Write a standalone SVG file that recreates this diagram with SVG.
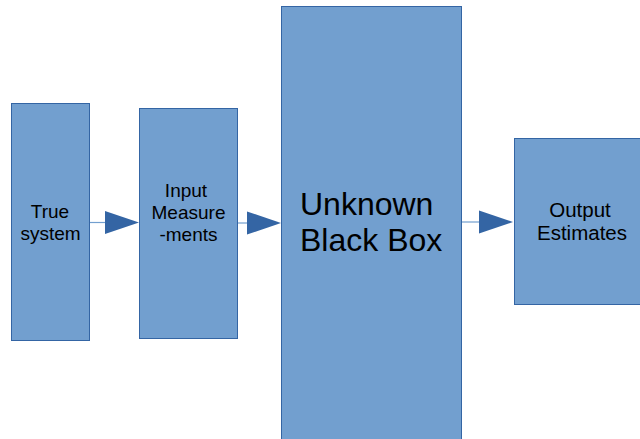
<svg xmlns="http://www.w3.org/2000/svg" width="640" height="439" viewBox="0 0 640 439">
<defs>
<style>
.box{fill:#729fcf;stroke:#3465a4;stroke-width:1}
.lbl{font-family:"Liberation Sans",Arial,sans-serif;fill:#000}
.ln{stroke:#729fcf;stroke-width:1.2;fill:none}
.ah{fill:#3465a4}
</style>
</defs>
<rect width="640" height="439" fill="#fff"/>
<g id="true-system">
<rect class="box" x="11.5" y="103.5" width="78" height="237"/>
<text class="lbl" font-size="19" text-anchor="middle"><tspan x="50" y="218">True</tspan><tspan x="50.5" y="240">system</tspan></text>
</g>
<g id="input-measurements">
<rect class="box" x="139.5" y="108.5" width="98" height="230"/>
<text class="lbl" font-size="19" text-anchor="middle"><tspan x="186" y="197">Input</tspan><tspan x="188.5" y="219">Measure</tspan><tspan x="188.5" y="241">-ments</tspan></text>
</g>
<g id="black-box">
<rect class="box" x="281.5" y="6.5" width="180" height="436"/>
<text class="lbl" font-size="32"><tspan x="300" y="215">Unknown</tspan><tspan x="300" y="251">Black Box</tspan></text>
</g>
<g id="output-estimates">
<rect class="box" x="514.5" y="138.5" width="130" height="166"/>
<text class="lbl" font-size="20.5" text-anchor="middle"><tspan x="580" y="217">Output</tspan><tspan x="582" y="239.5">Estimates</tspan></text>
</g>
<g id="connectors">
<line class="ln" x1="90" y1="222.5" x2="106" y2="222.5"/>
<polygon class="ah" points="105,211 139,222.5 105,234"/>
<line class="ln" x1="238" y1="223" x2="248" y2="223"/>
<polygon class="ah" points="247,211.5 281,223 247,234.5"/>
<line class="ln" x1="462" y1="222" x2="480" y2="222"/>
<polygon class="ah" points="479,210.5 513,222 479,233.5"/>
</g>
</svg>
